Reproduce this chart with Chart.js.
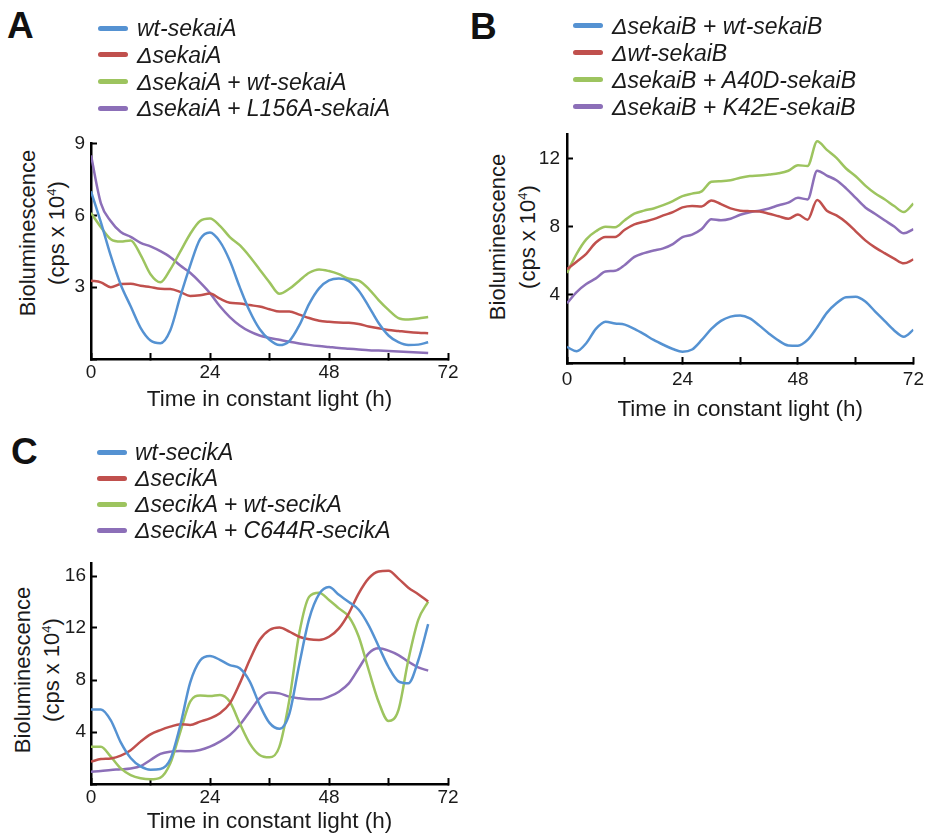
<!DOCTYPE html>
<html>
<head>
<meta charset="utf-8">
<script src="https://cdn.jsdelivr.net/npm/chart.js@4.4.1/dist/chart.umd.min.js"></script>
<style>
  body { margin: 0; background: #fff; font-family: "Liberation Sans", Arial, sans-serif; color: #1a1a1a; }
  #page { position: relative; width: 935px; height: 834px; overflow: hidden; }
  .wrap { position: absolute; }
  .letter { position: absolute; font-weight: bold; font-size: 37px; line-height: 37px; color: #111; }
  .leg-text { position: absolute; white-space: nowrap; font-style: italic; font-size: 23px; line-height: 22px; }
  .leg-line { position: absolute; height: 5px; width: 30px; border-radius: 3px; }
  .ytitle { position: absolute; transform: translate(-50%, -50%) rotate(-90deg); font-size: 22px; line-height: 22px; white-space: nowrap; }
  .ytitle sup { font-size: 13px; vertical-align: 8px; line-height: 0; }
</style>
</head>
<body>
<div id="page">
  <div class="letter" style="left:7px;top:7px">A</div>
  <div class="letter" style="left:470px;top:8px">B</div>
  <div class="letter" style="left:11px;top:433px">C</div>

  <div class="ytitle" style="left:28px;top:233px">Bioluminescence</div>
  <div class="ytitle" style="left:57px;top:233px">(cps x 10<sup>4</sup>)</div>
  <div class="ytitle" style="left:498px;top:237px">Bioluminescence</div>
  <div class="ytitle" style="left:528px;top:237px">(cps x 10<sup>4</sup>)</div>
  <div class="ytitle" style="left:23px;top:670px">Bioluminescence</div>
  <div class="ytitle" style="left:52px;top:670px">(cps x 10<sup>4</sup>)</div>

  <div class="wrap" style="left:0;top:120px"><canvas id="chartA" width="470" height="300"></canvas></div>
  <div class="wrap" style="left:470px;top:110px"><canvas id="chartB" width="465" height="330"></canvas></div>
  <div class="wrap" style="left:0;top:540px"><canvas id="chartC" width="470" height="294"></canvas></div>
</div>
<script>
const FONT = '"Liberation Sans", Arial, sans-serif';
const colors = ['#5592d2', '#c0504d', '#9dc45f', '#8c6fb8'];

// panel A
const namesA = ['wt-sekaiA', 'ΔsekaiA', 'ΔsekaiA + wt-sekaiA', 'ΔsekaiA + L156A-sekaiA'];
const hoursA = [0,2,4,6,8,10,12,14,16,18,20,22,24,26,28,30,32,34,36,38,40,42,44,46,48,50,52,54,56,58,60,62,64,66,68];
const wtA    = [7.0,5.7,4.3,3.1,2.2,1.3,0.77,0.66,1.2,2.6,3.9,5.0,5.28,4.9,4.1,3.0,2.0,1.25,0.8,0.58,0.75,1.4,2.3,2.95,3.28,3.36,3.25,2.85,2.2,1.5,0.98,0.7,0.58,0.6,0.7];
const delA   = [3.27,3.2,3.0,3.13,3.14,3.06,3.0,2.93,2.92,2.8,2.63,2.66,2.73,2.52,2.35,2.32,2.25,2.19,2.08,1.98,1.98,1.85,1.71,1.6,1.55,1.52,1.51,1.46,1.36,1.28,1.21,1.17,1.13,1.1,1.08];
const compA  = [6.1,5.5,5.0,4.9,4.95,4.35,3.54,3.2,3.74,4.48,5.22,5.76,5.86,5.56,5.09,4.75,4.28,3.74,3.2,2.72,2.93,3.27,3.6,3.74,3.67,3.54,3.35,3.27,2.93,2.46,2.05,1.71,1.65,1.69,1.75];
const mutA   = [8.5,6.5,5.75,5.3,5.1,4.85,4.7,4.5,4.25,3.9,3.6,3.2,2.75,2.2,1.75,1.4,1.15,0.98,0.88,0.8,0.72,0.65,0.59,0.54,0.5,0.46,0.43,0.4,0.37,0.35,0.33,0.31,0.29,0.27,0.25];

// panel B
const namesB = ['ΔsekaiB + wt-sekaiB', 'Δwt-sekaiB', 'ΔsekaiB + A40D-sekaiB', 'ΔsekaiB + K42E-sekaiB'];
const hoursB = [0,2,4,6,8,10,12,14,16,18,20,22,24,26,28,30,32,34,36,38,40,42,44,46,48,50,52,54,56,58,60,62,64,66,68,70,72];
const wtB    = [0.94,0.69,1.16,2.0,2.42,2.32,2.25,2.0,1.69,1.35,1.07,0.82,0.66,0.79,1.35,2.0,2.47,2.72,2.79,2.62,2.19,1.72,1.31,1.03,1.01,1.35,2.1,2.94,3.5,3.86,3.88,3.6,3.03,2.47,1.91,1.54,1.95];
const delB   = [5.5,5.94,6.4,7.06,7.38,7.38,7.81,8.13,8.28,8.43,8.65,8.84,9.12,9.21,9.18,9.53,9.31,9.06,8.93,8.9,8.88,8.75,8.6,8.46,8.7,8.4,9.55,8.93,8.65,8.25,7.72,7.19,6.78,6.44,6.12,5.84,6.07];
const a40dB  = [5.28,6.4,7.25,7.72,7.98,7.96,8.37,8.75,8.93,9.06,9.25,9.49,9.78,9.93,10.06,10.62,10.66,10.71,10.86,10.96,10.99,11.05,11.12,11.27,11.59,11.55,13.0,12.49,12.02,11.4,10.95,10.4,9.95,9.6,9.2,8.85,9.35];
const k42eB  = [3.5,4.16,4.63,4.96,5.36,5.41,5.75,6.22,6.44,6.59,6.72,6.97,7.38,7.53,7.85,8.43,8.37,8.46,8.69,8.84,8.93,9.06,9.25,9.4,9.68,9.59,11.27,10.99,10.71,10.24,9.68,9.12,8.75,8.37,8.0,7.6,7.85];

// panel C
const namesC = ['wt-secikA', 'ΔsecikA', 'ΔsecikA + wt-secikA', 'ΔsecikA + C644R-secikA'];
const hoursC = [0,2,4,6,8,10,12,14,16,18,20,22,24,26,28,30,32,34,36,38,40,42,44,46,48,50,52,54,56,58,60,62,64,66,68];
const wtC    = [5.74,5.74,4.9,3.2,2.0,1.35,1.1,1.15,1.9,4.5,7.8,9.5,9.85,9.55,9.15,8.9,7.9,6.1,4.7,4.25,5.4,9.2,12.7,14.6,15.15,14.55,14.0,13.4,12.2,10.6,9.0,7.9,7.75,9.5,12.3];
const delC   = [1.72,1.92,1.97,2.18,2.6,3.26,3.82,4.15,4.41,4.6,4.54,4.8,5.05,5.44,6.2,7.74,9.54,11.08,11.85,12.03,11.72,11.33,11.13,11.08,11.33,11.97,13.13,14.67,15.82,16.35,16.4,15.8,15.1,14.6,14.03];
const compC  = [2.87,2.87,2.1,1.2,0.69,0.44,0.36,0.49,1.59,4.0,6.33,6.8,6.77,6.85,6.33,4.67,3.13,2.23,2.05,2.87,6.46,11.59,14.41,14.72,14.15,13.51,12.87,11.33,8.77,6.33,4.85,5.69,9.54,12.62,14.03];
const mutC   = [0.95,1.0,1.08,1.13,1.2,1.38,1.85,2.31,2.49,2.54,2.51,2.62,2.87,3.26,3.77,4.54,5.56,6.59,7.03,6.97,6.72,6.59,6.51,6.51,6.72,7.1,7.74,8.9,10.05,10.44,10.26,9.92,9.41,8.97,8.72];

function makeLegend(names, lineX, textX, firstY, step) {
    const page = document.getElementById('page');
    names.forEach((name, i) => {
        const cy = firstY + i * step;
        const line = document.createElement('div');
        line.className = 'leg-line';
        line.style.left = lineX + 'px';
        line.style.top = (cy - 2.5) + 'px';
        line.style.background = colors[i];
        page.appendChild(line);
        const txt = document.createElement('div');
        txt.className = 'leg-text';
        txt.style.left = textX + 'px';
        txt.style.top = (cy - 11) + 'px';
        txt.textContent = name;
        page.appendChild(txt);
    });
}

function makeChart(id, hours, series, p) {
    const datasets = series.map((vals, i) => ({
        data: hours.map((h, k) => ({ x: h, y: vals[k] })),
        borderColor: colors[i],
        borderWidth: 2.5,
        pointRadius: 0,
        fill: false,
        cubicInterpolationMode: 'monotone'
    }));
    const gridOpts = { display: true, drawOnChartArea: false, drawTicks: true, tickLength: -6, tickWidth: 2, tickColor: '#000' };
    const borderOpts = { display: true, color: '#000', width: 2.5 };
    return new Chart(document.getElementById(id), {
        type: 'line',
        data: { datasets: datasets },
        options: {
            responsive: false,
            animation: false,
            layout: { padding: { left: 0, right: p.right, top: p.top, bottom: 0 } },
            plugins: { legend: { display: false }, tooltip: { enabled: false } },
            scales: {
                x: {
                    type: 'linear', min: 0, max: 72,
                    ticks: {
                        stepSize: 12, autoSkip: false, maxRotation: 0, padding: p.xPad,
                        color: '#1a1a1a', font: { family: FONT, size: 19 },
                        callback: v => (v % 24 === 0 ? String(v) : '')
                    },
                    grid: gridOpts,
                    border: borderOpts,
                    title: {
                        display: true, text: 'Time in constant light (h)', color: '#1a1a1a',
                        font: { family: FONT, size: 22.5, lineHeight: 1 },
                        padding: { top: 0, bottom: p.titlePad }
                    },
                    afterFit: s => { s.height = p.xh; }
                },
                y: {
                    type: 'linear', min: 0, max: p.yMax,
                    ticks: {
                        stepSize: p.yStep, includeBounds: false, padding: p.yPad,
                        color: '#1a1a1a', font: { family: FONT, size: 19 },
                        callback: v => (v === 0 ? '' : String(v))
                    },
                    grid: gridOpts,
                    border: borderOpts,
                    afterFit: s => { s.width = p.yw; }
                }
            }
        }
    });
}

makeLegend(namesA, 98, 137, 28, 26.8);
makeLegend(namesB, 573, 612, 25.5, 27);
makeLegend(namesC, 97, 135, 452, 26);

makeChart('chartA', hoursA, [wtA, delA, compA, mutA],
    { right: 22, top: 17, yw: 91, xh: 61, xPad: 8, yPad: 12, titlePad: 9, yMax: 9, yStep: 3 });
makeChart('chartB', hoursB, [wtB, delB, a40dB, k42eB],
    { right: 11, top: 16, yw: 97, xh: 77, xPad: 11, yPad: 13, titlePad: 19, yMax: 13.4, yStep: 4 });
makeChart('chartC', hoursC, [wtC, delC, compC, mutC],
    { right: 22, top: 23, yw: 91, xh: 50, xPad: 8, yPad: 11, titlePad: 1, yMax: 17, yStep: 4 });
</script>
</body>
</html>
